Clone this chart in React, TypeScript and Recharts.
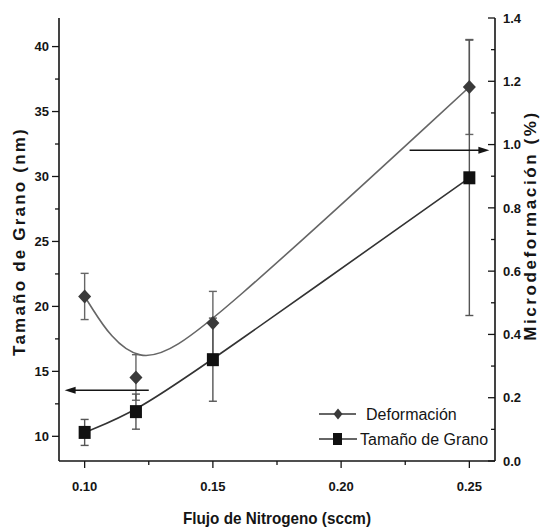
import React from 'react';
import { LineChart, Line, XAxis, YAxis, ErrorBar, ReferenceLine } from 'recharts';

// flujo de nitrogeno (sccm)
const flujo = [0.10, 0.12, 0.15, 0.25];
// tamaño de grano (nm), eje izquierdo
const tamanoGrano = [10.3, 11.9, 15.9, 29.9];
const tamanoError = [1.0, 1.35, 3.2, 10.6];
// microdeformacion (%), eje derecho
const deformacion = [0.52, 0.264, 0.436, 1.182];
const deformacionError = [0.073, 0.072, 0.10, 0.15];

const xTicks = [0.10, 0.125, 0.15, 0.175, 0.20, 0.225, 0.25];
const leftTicks = [10, 12.5, 15, 17.5, 20, 22.5, 25, 27.5, 30, 32.5, 35, 37.5, 40];
const rightTicks = [0, 0.1, 0.2, 0.3, 0.4, 0.5, 0.6, 0.7, 0.8, 0.9, 1.0, 1.1, 1.2, 1.3, 1.4];

// flechas que indican el eje de cada curva
const flechaIzq = [{ x: 0.125, y: 13.55 }, { x: 0.0922, y: 13.55 }];
const flechaDer = [{ x: 0.2267, y: 0.982 }, { x: 0.2578, y: 0.982 }];

const datos = flujo.map((x, i) => ({
  x,
  tamano: tamanoGrano[i],
  errT: tamanoError[i],
  def: deformacion[i],
  errD: deformacionError[i],
}));

const sans = "'Liberation Sans', Arial, sans-serif";
const ink = '#151515';

const tickText = { fontFamily: sans, fontWeight: 'bold' as const, fontSize: 13, fill: ink };

const LeftTick = (props: any) => {
  const { x, y, payload } = props;
  const v = payload.value;
  const major = Math.abs(v % 5) < 1e-6;
  return (
    <g>
      <line x1={x} x2={x - (major ? 7 : 4)} y1={y} y2={y} stroke={ink} strokeWidth={1.3} />
      {major && (
        <text x={x - 10} y={y} dy="0.36em" textAnchor="end" {...tickText}>
          {v}
        </text>
      )}
    </g>
  );
};

const RightTick = (props: any) => {
  const { x, y, payload } = props;
  const v = payload.value;
  const major = Math.round(v * 10) % 2 === 0;
  return (
    <g>
      <line x1={x} x2={x - (major ? 7 : 4)} y1={y} y2={y} stroke={ink} strokeWidth={1.3} />
      {major && (
        <text x={x + 8} y={y} dy="0.36em" textAnchor="start" {...tickText}>
          {v.toFixed(1)}
        </text>
      )}
    </g>
  );
};

const BottomTick = (props: any) => {
  const { x, y, payload } = props;
  const v = payload.value;
  const major = Math.round(v * 1000) % 50 === 0;
  return (
    <g>
      <line x1={x} x2={x} y1={y} y2={y + (major ? 7 : 4)} stroke={ink} strokeWidth={1.3} />
      {major && (
        <text x={x} y={y + 30} textAnchor="middle" {...tickText}>
          {v.toFixed(2)}
        </text>
      )}
    </g>
  );
};

const TopTick = (props: any) => {
  const { x, y } = props;
  return <line x1={x} x2={x} y1={y} y2={y + 7} stroke={ink} strokeWidth={1.3} />;
};

const Diamante = (props: any) => {
  const { cx, cy } = props;
  if (cx == null || cy == null) return <g />;
  return <polygon points={`${cx},${cy - 7} ${cx + 6.5},${cy} ${cx},${cy + 7} ${cx - 6.5},${cy}`} fill="#3a3a3a" />;
};

const Cuadro = (props: any) => {
  const { cx, cy } = props;
  if (cx == null || cy == null) return <g />;
  return <rect x={cx - 6} y={cy - 6.5} width={12} height={13} fill="#111" />;
};

const Flecha = (props: any) => {
  const { x1, y1, x2, y2 } = props;
  const d = Math.sign(x2 - x1);
  return (
    <g>
      <line x1={x1} y1={y1} x2={x2 - d * 8} y2={y2} stroke={ink} strokeWidth={1.6} />
      <polygon points={`${x2},${y2} ${x2 - d * 11},${y2 - 3.5} ${x2 - d * 11},${y2 + 3.5}`} fill={ink} />
    </g>
  );
};

const Leyenda = () => (
  <svg width={200} height={52} style={{ position: 'absolute', left: 316, top: 402 }}>
    <line x1={3} x2={40} y1={12} y2={12} stroke="#333" strokeWidth={1.5} />
    <polygon points="22,6.5 26.5,12 22,17.5 17.5,12" fill="#3a3a3a" />
    <text x={50} y={12} dy="0.36em" fontFamily={sans} fontSize={16} fill={ink}>Deformación</text>
    <line x1={3} x2={41} y1={37} y2={37} stroke="#333" strokeWidth={1.5} />
    <rect x={17} y={31} width={9} height={12} fill="#111" />
    <text x={44} y={37} dy="0.36em" fontFamily={sans} fontSize={16} fill={ink}>Tamaño de Grano</text>
  </svg>
);

export default function App() {
  return (
    <div style={{ position: 'absolute', left: 0, top: 0, width: 542, height: 529, background: '#fff' }}>
      <LineChart width={542} height={529} data={datos} margin={{ top: 18, right: 0, bottom: 0, left: 0 }}>
        <XAxis
          dataKey="x"
          type="number"
          domain={[0.09, 0.26]}
          ticks={xTicks}
          interval={0}
          height={68}
          tickSize={0}
          tickMargin={0}
          tickLine={false}
          tick={<BottomTick />}
          axisLine={{ stroke: ink, strokeWidth: 1.6 }}
          label={(p: any) => (
            <text
              x={p.viewBox.x + p.viewBox.width / 2}
              y={p.viewBox.y + 63}
              textAnchor="middle"
              fontFamily={sans}
              fontWeight="bold"
              fontSize={17}
              textLength={188}
              lengthAdjust="spacingAndGlyphs"
              fill={ink}
            >
              Flujo de Nitrogeno (sccm)
            </text>
          )}
        />
        <XAxis
          xAxisId="top"
          orientation="top"
          dataKey="x"
          type="number"
          domain={[0.09, 0.26]}
          ticks={xTicks}
          interval={0}
          height={0}
          tickSize={0}
          tickMargin={0}
          tickLine={false}
          tick={<TopTick />}
          axisLine={{ stroke: ink, strokeWidth: 1.6 }}
        />
        <YAxis
          yAxisId="left"
          domain={[8.1, 42.2]}
          ticks={leftTicks}
          interval={0}
          width={59}
          tickSize={0}
          tickMargin={0}
          tickLine={false}
          tick={<LeftTick />}
          axisLine={{ stroke: ink, strokeWidth: 1.6 }}
          label={(p: any) => {
            const cx = 19;
            const cy = p.viewBox.y + p.viewBox.height / 2 + 2;
            return (
              <text x={cx} y={cy} transform={`rotate(-90 ${cx} ${cy})`} dy="0.36em" textAnchor="middle" fontFamily={sans} fontWeight="bold" fontSize={17} letterSpacing={2.2} fill={ink}>
                Tamaño de Grano (nm)
              </text>
            );
          }}
        />
        <YAxis
          yAxisId="right"
          orientation="right"
          domain={[0, 1.4]}
          ticks={rightTicks}
          interval={0}
          width={47}
          tickSize={0}
          tickMargin={0}
          tickLine={false}
          tick={<RightTick />}
          axisLine={{ stroke: ink, strokeWidth: 1.6 }}
          label={(p: any) => {
            const cx = p.viewBox.x + 35;
            const cy = p.viewBox.y + p.viewBox.height / 2 - 14;
            return (
              <text x={cx} y={cy} transform={`rotate(-90 ${cx} ${cy})`} dy="0.36em" textAnchor="middle" fontFamily={sans} fontWeight="bold" fontSize={17} letterSpacing={2.6} fill={ink}>
                Microdeformación (%)
              </text>
            );
          }}
        />
        <Line
          yAxisId="right"
          dataKey="def"
          type="basis"
          stroke="#666"
          strokeWidth={1.6}
          dot={<Diamante />}
          activeDot={false}
          isAnimationActive={false}
        >
          <ErrorBar dataKey="errD" direction="y" width={4} stroke="#666" strokeWidth={1.4} />
        </Line>
        <Line
          yAxisId="left"
          dataKey="tamano"
          type="basis"
          stroke="#333"
          strokeWidth={1.6}
          dot={<Cuadro />}
          activeDot={false}
          isAnimationActive={false}
        >
          <ErrorBar dataKey="errT" direction="y" width={4} stroke="#555" strokeWidth={1.4} />
        </Line>
        <ReferenceLine yAxisId="left" segment={flechaIzq} shape={<Flecha />} ifOverflow="visible" />
        <ReferenceLine yAxisId="right" segment={flechaDer} shape={<Flecha />} ifOverflow="visible" />
      </LineChart>
      <Leyenda />
    </div>
  );
}
